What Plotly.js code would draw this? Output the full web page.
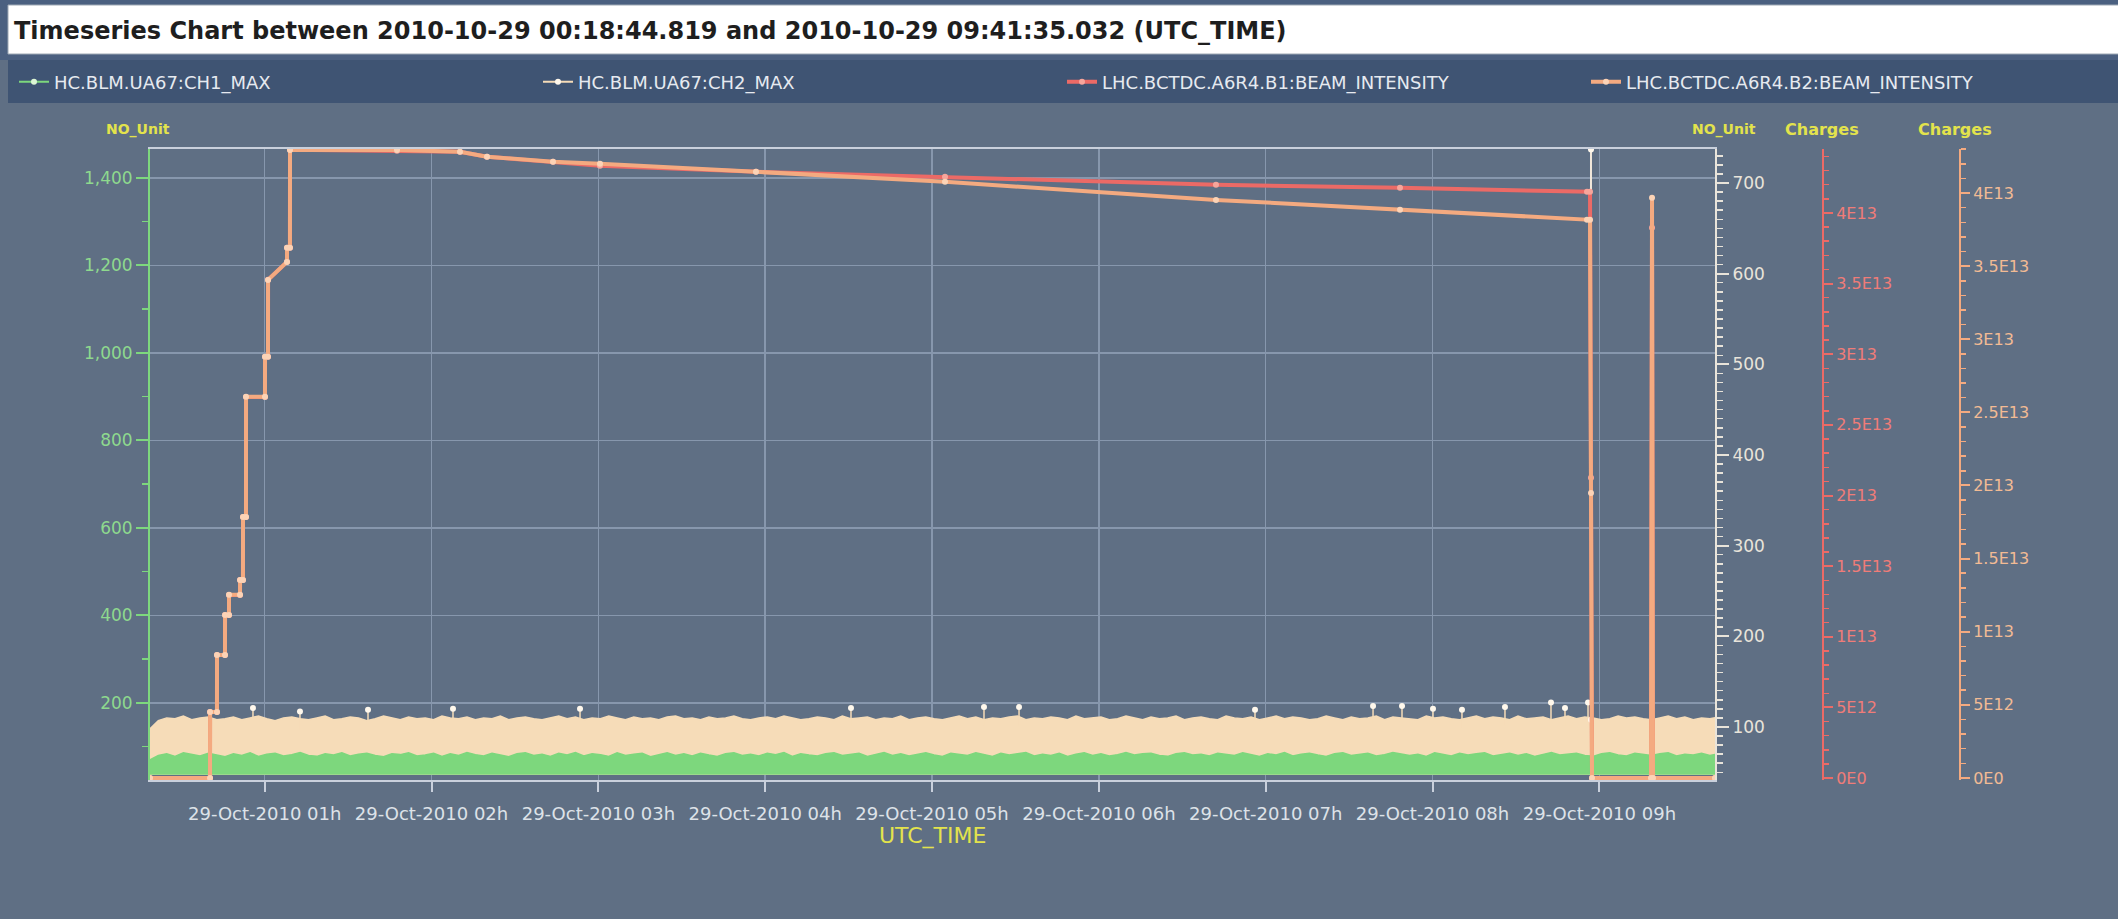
<!DOCTYPE html>
<html><head><meta charset="utf-8">
<script src="https://cdn.plot.ly/plotly-3.0.1.min.js"></script>
<style>html,body{margin:0;padding:0;background:#5f6f84;overflow:hidden}#chart{width:2118px;height:919px}</style>
</head><body><div id="chart"></div>
<script>
// ---------------- DATA ----------------
const seriesNames = ['HC.BLM.UA67:CH1_MAX', 'HC.BLM.UA67:CH2_MAX', 'LHC.BCTDC.A6R4.B1:BEAM_INTENSITY', 'LHC.BCTDC.A6R4.B2:BEAM_INTENSITY'];
const chartTitle = 'Timeseries Chart between 2010-10-29 00:18:44.819 and 2010-10-29 09:41:35.032 (UTC_TIME)';
const timeStart = '2010-10-29 00:18:44.819';
const timeEnd = '2010-10-29 09:41:35.032';
const envelopeStepMs = 180000; // one envelope reading every 3 minutes

// upper edge of the CH1 (green) noise band, left NO_Unit axis
const ch1Top = [
70,80,84,78,86,82,79,85,81,77, 84,80,86,78,83,85,79,82,87,80,
78,84,81,86,79,83,85,80,77,84, 82,86,79,81,85,78,84,80,87,82,
79,85,81,77,84,86,80,83,78,85, 81,87,79,84,82,78,86,80,83,85,
77,82,86,80,84,79,85,81,78,84, 86,80,83,79,85,82,87,78,84,81,
79,84,86,80,82,85,78,83,87,80, 84,79,82,86,81,78,85,83,80,86,
82,78,85,81,84,87,79,83,80,85, 78,83,86,80,84,79,82,87,81,84,
85,80,78,84,86,81,83,79,85,82, 80,86,82,78,84,81,87,79,83,85,
81,78,84,86,80,83,85,79,82,87, 84,80,83,78,86,82,79,85,81,84,
86,79,82,85,80,84,78,83,87,81, 83,85,80,78,84,86,81,79,85,82,
80,84,86,79,83,81,85,80,84
];
// lower edge of the CH1 band (left axis)
const ch1BottomTime = [timeStart, timeEnd];
const ch1Bottom = [36, 36];

// upper edge of the CH2 (beige) noise band, right NO_Unit axis
const ch2Top = [
98,107,110,109,112,108,110,111,108,109, 111,108,110,112,109,107,110,111,109,108,
110,112,108,109,111,110,107,109,112,110, 108,111,109,110,108,112,110,109,111,108,
110,109,112,108,110,111,109,108,110,112, 109,111,108,110,109,112,110,108,111,109,
110,108,111,112,109,110,108,111,109,110, 112,109,108,110,111,109,112,110,108,109,
111,110,108,112,109,110,111,108,110,109, 112,108,110,111,109,108,110,112,109,111,
108,110,109,111,112,108,110,109,111,110, 108,112,109,110,111,108,109,112,110,108,
111,109,110,112,108,110,111,109,108,112, 110,109,111,108,110,112,109,111,110,108,
109,112,110,108,111,109,110,112,108,111, 110,109,108,112,110,111,109,108,110,112,
109,111,110,108,112,109,110,111,108,110, 112,109,111,110,108,109,112,110,111,109,
108,110,112,109,111,108,110,109,111
];
// lower edge of the CH2 band (right axis, hidden under CH1)
const ch2BottomTime = [timeStart, timeEnd];
const ch2Bottom = [47, 47];
// isolated CH2 spikes above the band
const ch2SpikeTime = ['2010-10-29 00:55:47','2010-10-29 01:12:41','2010-10-29 01:37:09','2010-10-29 02:07:43','2010-10-29 02:53:24','2010-10-29 04:30:51','2010-10-29 05:18:41','2010-10-29 05:31:17','2010-10-29 06:56:09','2010-10-29 07:38:36','2010-10-29 07:49:01','2010-10-29 08:00:10','2010-10-29 08:10:35','2010-10-29 08:26:03','2010-10-29 08:42:36','2010-10-29 08:47:38','2010-10-29 08:55:55'];
const ch2SpikeValue = [121,117,119,120,120,121,122,122,119,123,123,120,119,122,127,121,127];
// CH2 reading at the beam dump
const ch2DumpTime = ['2010-10-29 08:56:59','2010-10-29 08:56:59'];
const ch2DumpValue = [108, 737];

// beam intensities (charges)
const beamTime = ['2010-10-29 00:18:45','2010-10-29 00:40:20','2010-10-29 00:40:21','2010-10-29 00:42:50','2010-10-29 00:42:51','2010-10-29 00:45:43','2010-10-29 00:45:44','2010-10-29 00:47:09','2010-10-29 00:47:10','2010-10-29 00:51:07','2010-10-29 00:51:08','2010-10-29 00:52:11','2010-10-29 00:52:12','2010-10-29 00:53:16','2010-10-29 00:53:17','2010-10-29 01:00:06','2010-10-29 01:00:07','2010-10-29 01:01:11','2010-10-29 01:01:12','2010-10-29 01:08:01','2010-10-29 01:08:02','2010-10-29 01:09:05','2010-10-29 01:09:06','2010-10-29 01:47:35','2010-10-29 02:10:14','2010-10-29 02:19:57','2010-10-29 02:43:41','2010-10-29 03:00:35','2010-10-29 03:56:41','2010-10-29 05:04:40','2010-10-29 06:42:07','2010-10-29 07:48:18','2010-10-29 08:55:33','2010-10-29 08:56:38','2010-10-29 08:56:59','2010-10-29 08:57:21','2010-10-29 09:18:34','2010-10-29 09:18:56','2010-10-29 09:19:17','2010-10-29 09:41:35'];
const b1 = [0,0,0.467e13,0.467e13,0.871e13,0.871e13,1.154e13,1.154e13,1.296e13,1.296e13,1.402e13,1.402e13,1.848e13,1.848e13,2.698e13,2.698e13,2.982e13,2.982e13,3.527e13,3.654e13,3.754e13,3.754e13,4.448e13,4.441e13,4.433e13,4.398e13,4.363e13,4.334e13,4.292e13,4.256e13,4.200e13,4.178e13,4.150e13,4.150e13,2.125e13,0,0,3.895e13,0,0];
const b2 = [0,0,0.451e13,0.451e13,0.841e13,0.841e13,1.115e13,1.115e13,1.252e13,1.252e13,1.354e13,1.354e13,1.785e13,1.785e13,2.606e13,2.606e13,2.880e13,2.880e13,3.406e13,3.529e13,3.625e13,3.625e13,4.295e13,4.295e13,4.282e13,4.248e13,4.214e13,4.200e13,4.145e13,4.077e13,3.953e13,3.885e13,3.817e13,3.817e13,1.949e13,0,0,3.967e13,0,0];

// tick labels
const chargeTickVals = [0,5e12,1e13,1.5e13,2e13,2.5e13,3e13,3.5e13,4e13];
const chargeTickText = ['0E0','5E12','1E13','1.5E13','2E13','2.5E13','3E13','3.5E13','4E13'];
const axisTitles = {left:'NO_Unit', right:'NO_Unit', b1:'Charges', b2:'Charges', x:'UTC_TIME'};

// ---------------- LAYOUT HELPERS ----------------
const W = 2118, H = 919, ML = 150, MR = 0, MT = 149, MB = 139;
const PW = W - ML - MR, PH = H - MT - MB;
const px = v => (v - ML) / PW;          // page x pixel -> paper
const py = v => (H - MB - v) / PH;      // page y pixel -> paper
const FONT = 'DejaVu Sans';
const col = {
  bg:'#5f6f84', grid:'#8797ad', xaxis:'#c9d0dc', xlab:'#dde2e8', yellow:'#e3e34c',
  ch1:'#7dd77d', ch1m:'#dcf6d4', ch1lab:'#8ed98e',
  ch2:'#f6dcb8', ch2m:'#fff8ec', ch2lab:'#e9e4da',
  b1:'#ec6a66', b1m:'#f7a59b', b1lab:'#f07c78',
  b2:'#f4aa80', b2m:'#fcd3b6', b2lab:'#f2bb94'
};

const data = [
  // legend entries
  {name:seriesNames[0], x:[null], y:[null], type:'scatter', mode:'lines+markers', line:{color:col.ch1,width:2}, marker:{color:col.ch1m,size:6}, yaxis:'y2', hoverinfo:'skip'},
  {name:seriesNames[1], x:[null], y:[null], type:'scatter', mode:'lines+markers', line:{color:col.ch2,width:2}, marker:{color:col.ch2m,size:6}, yaxis:'y', hoverinfo:'skip'},
  // CH2 band
  {x:ch2BottomTime, y:ch2Bottom, type:'scatter', mode:'lines', line:{width:0, color:col.ch2}, yaxis:'y', showlegend:false, hoverinfo:'skip'},
  {x0:timeStart, dx:envelopeStepMs, y:ch2Top, type:'scatter', mode:'lines', fill:'tonexty', fillcolor:col.ch2, line:{color:col.ch2,width:1.5}, yaxis:'y', showlegend:false, hoverinfo:'skip'},
  {x:ch2SpikeTime, y:ch2SpikeValue, type:'scatter', mode:'markers', marker:{color:col.ch2m,size:6}, error_y:{type:'constant', value:0, valueminus:20, symmetric:false, color:col.ch2, thickness:1.5, width:0}, yaxis:'y', showlegend:false},
  {x:ch2DumpTime, y:ch2DumpValue, type:'scatter', mode:'lines+markers', line:{color:'#f1e7da',width:2}, marker:{color:col.ch2m,size:6}, yaxis:'y', showlegend:false},
  // CH1 band
  {x:ch1BottomTime, y:ch1Bottom, type:'scatter', mode:'lines', line:{width:0, color:col.ch1}, yaxis:'y2', showlegend:false, hoverinfo:'skip'},
  {x0:timeStart, dx:envelopeStepMs, y:ch1Top, type:'scatter', mode:'lines', fill:'tonexty', fillcolor:col.ch1, line:{color:col.ch1,width:1.5}, yaxis:'y2', showlegend:false, hoverinfo:'skip'},
  // beams
  {name:seriesNames[2], x:beamTime, y:b1, type:'scatter', mode:'lines+markers', line:{color:col.b1,width:4}, marker:{color:col.b1m,size:6}, yaxis:'y3'},
  {name:seriesNames[3], x:beamTime, y:b2, type:'scatter', mode:'lines+markers', line:{color:col.b2,width:4}, marker:{color:col.b2m,size:6}, yaxis:'y4'}
];

const tickFont = c => ({family:FONT, size:17, color:c});
const titleFont = s => ({family:FONT, size:s, color:col.yellow, weight:'bold'});
const layout = {
  width:W, height:H,
  margin:{l:ML, r:MR, t:MT, b:MB, autoexpand:false},
  paper_bgcolor:col.bg, plot_bgcolor:col.bg,
  showlegend:true,
  title:{text:chartTitle, font:{family:FONT, size:24, color:'#1e1e1e', weight:'bold'}, xref:'container', yref:'container', x:14/W, xanchor:'left', y:1-31/H, yanchor:'middle'},
  legend:{orientation:'h', x:px(14), xanchor:'left', y:py(82), yanchor:'middle', entrywidth:479, entrywidthmode:'pixels', itemwidth:30, traceorder:'normal', bgcolor:'rgba(0,0,0,0)', font:{family:FONT, size:18, color:'#e6eaf0'}},
  xaxis:{type:'date', domain:[0, px(1715)], range:[timeStart, timeEnd], tickmode:'linear', tick0:'2010-10-29 00:00:00', dtick:3600000, tickformat:'%d-%b-%Y %Hh',
    ticks:'outside', ticklen:10, tickwidth:2, tickcolor:col.xaxis, ticklabelstandoff:6, showline:true, linecolor:col.xaxis, linewidth:2, mirror:true,
    showgrid:true, gridcolor:col.grid, gridwidth:1.5, zeroline:false, tickfont:{family:FONT, size:18, color:col.xlab}, automargin:false},
  yaxis:{side:'right', anchor:'x', range:[41.5, 737.5], tickmode:'linear', tick0:0, dtick:100, ticks:'outside', ticklen:12, tickwidth:2, tickcolor:col.ch2lab,
    minor:{dtick:10, tick0:0, ticks:'outside', ticklen:6, tickwidth:1.5, tickcolor:col.ch2lab, showgrid:false},
    showline:true, linecolor:col.ch2lab, linewidth:2, showgrid:false, zeroline:false, tickfont:tickFont(col.ch2lab), automargin:false},
  yaxis2:{overlaying:'y', side:'left', anchor:'x', range:[24, 1466], tickmode:'linear', tick0:0, dtick:200, tickformat:',d', ticks:'outside', ticklen:12, tickwidth:2, tickcolor:col.ch1,
    minor:{dtick:100, tick0:0, ticks:'outside', ticklen:6, tickwidth:1.5, tickcolor:col.ch1, showgrid:false},
    showline:true, linecolor:col.ch1, linewidth:2, showgrid:true, gridcolor:col.grid, gridwidth:1.5, zeroline:false, tickfont:tickFont(col.ch1lab), automargin:false},
  yaxis3:{overlaying:'y', side:'right', anchor:'free', position:px(1823), range:[-1.4e11, 4.453e13], tickmode:'array', tickvals:chargeTickVals, ticktext:chargeTickText,
    ticks:'outside', ticklen:9, tickwidth:2, tickcolor:col.b1, minor:{dtick:1e12, tick0:0, ticks:'outside', ticklen:5, tickwidth:1.5, tickcolor:col.b1, showgrid:false},
    showline:true, linecolor:col.b1, linewidth:2, showgrid:false, zeroline:false, tickfont:{family:FONT, size:16, color:col.b1lab}, automargin:false},
  yaxis4:{overlaying:'y', side:'right', anchor:'free', position:px(1960), range:[-1.4e11, 4.301e13], tickmode:'array', tickvals:chargeTickVals, ticktext:chargeTickText,
    ticks:'outside', ticklen:9, tickwidth:2, tickcolor:col.b2, minor:{dtick:1e12, tick0:0, ticks:'outside', ticklen:5, tickwidth:1.5, tickcolor:col.b2, showgrid:false},
    showline:true, linecolor:col.b2, linewidth:2, showgrid:false, zeroline:false, tickfont:{family:FONT, size:16, color:col.b2lab}, automargin:false},
  shapes:[
    {type:'rect', xref:'paper', yref:'paper', x0:px(0), x1:px(W+5), y0:py(60), y1:py(-2), fillcolor:'#4b6080', line:{width:0}, layer:'below'},
    {type:'rect', xref:'paper', yref:'paper', x0:px(8), x1:px(W+5), y0:py(54), y1:py(5), fillcolor:'#ffffff', line:{color:'#9ea8b4', width:1}, layer:'below'},
    {type:'rect', xref:'paper', yref:'paper', x0:px(8), x1:px(W+5), y0:py(103), y1:py(60), fillcolor:'#3f5473', line:{width:0}, layer:'below'}
  ],
  annotations:[
    {text:axisTitles.left, xref:'paper', yref:'paper', x:px(138), y:py(130), xanchor:'center', yanchor:'middle', showarrow:false, font:titleFont(14)},
    {text:axisTitles.right, xref:'paper', yref:'paper', x:px(1724), y:py(130), xanchor:'center', yanchor:'middle', showarrow:false, font:titleFont(14)},
    {text:axisTitles.b1, xref:'paper', yref:'paper', x:px(1822), y:py(130), xanchor:'center', yanchor:'middle', showarrow:false, font:titleFont(16)},
    {text:axisTitles.b2, xref:'paper', yref:'paper', x:px(1955), y:py(130), xanchor:'center', yanchor:'middle', showarrow:false, font:titleFont(16)},
    {text:axisTitles.x, xref:'paper', yref:'paper', x:px(932), y:py(836), xanchor:'center', yanchor:'middle', showarrow:false, font:{family:FONT, size:22, color:col.yellow}}
  ]
};

Plotly.newPlot('chart', data, layout, {displayModeBar:false, staticPlot:true});
</script>
</body></html>
